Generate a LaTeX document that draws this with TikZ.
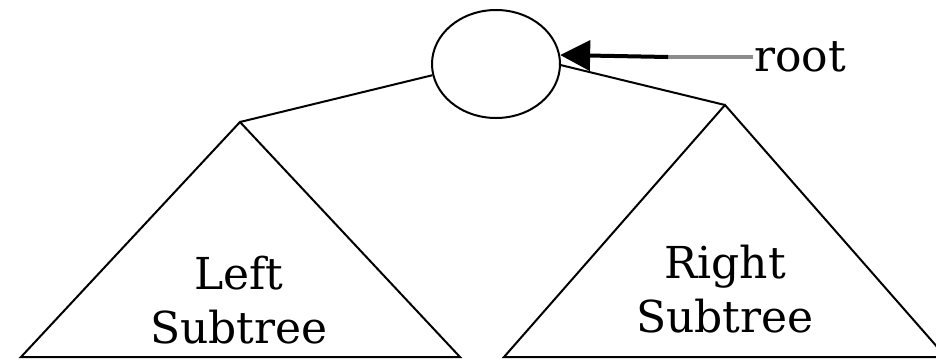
\documentclass[tikz,border=0pt]{standalone}
\usepackage{amsmath}
\usepackage{fontspec}
\setmainfont{DejaVu Serif}
\usepackage{tikz}
\usetikzlibrary{shapes.geometric,arrows.meta}

\begin{document}
\begin{tikzpicture}[x=0.5pt,y=-0.5pt,line width=1pt]
			\useasboundingbox (0,0) rectangle (936,360);
			\clip (0,0) rectangle (936,360);
			\tikzset{lbl/.style={inner sep=0pt,font=\fontsize{22}{27}\selectfont},
				tree/.style={line width=1pt}}
			\node[ellipse,draw,minimum width=64pt,minimum height=54pt,inner sep=0pt] (rootnode) at (496,64) {};
			\coordinate (lapex) at (240,122);
			\coordinate (rapex) at (725,105);
			\draw[tree] (rootnode.190) -- (lapex);
			\draw[tree] (lapex) -- (21,357) -- (460,357) -- cycle;
			\draw[tree] (rootnode.-1) -- (rapex);
			\draw[tree] (rapex) -- (504,357) -- (946,357) -- cycle;
			\node[lbl,align=center] (ltext) at (239,300) {Left\\Subtree};
			\node[lbl,align=center] (rtext) at (725,289) {Right\\Subtree};
			\node[lbl,anchor=west] (rootlbl) at (753,57) {root};
			\coordinate (arrowmid) at (668,57);
			\draw[gray!90,line width=2pt] (rootlbl.west) -- (arrowmid);
			\draw[line width=2pt,-{Triangle[length=15pt,width=15pt]}] (arrowmid) -- (rootnode.8);
		\end{tikzpicture}
\end{document}
